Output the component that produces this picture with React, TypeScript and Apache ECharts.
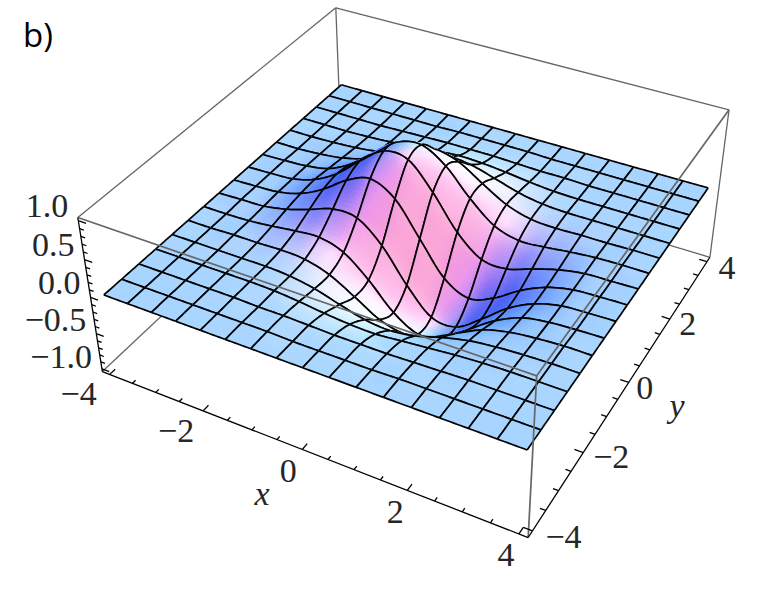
import React, { useEffect, useRef } from "react";
import * as echarts from "echarts";

const xValues = [-4,-3.5,-3,-2.5,-2,-1.5,-1,-0.5,0,0.5,1,1.5,2,2.5,3,3.5,4];
const yValues = [-4,-3.5,-3,-2.5,-2,-1.5,-1,-0.5,0,0.5,1,1.5,2,2.5,3,3.5,4];
// heights: row = x, column = y
const zGrid = [
[0,0,0,0,0,0,0,0,0,0,0,0,0,0,0,0,0],
[0,0,0,0,0,0,0,.01,.01,.01,.01,0,0,0,0,0,0],
[0,0,0,0,0,.01,.01,.02,.03,.03,.03,.02,.01,0,0,0,0],
[0,0,0,0,0,.01,.04,.08,.11,.12,.09,.06,.03,.01,0,0,0],
[0,0,0,0,0,.02,.08,.18,.27,.30,.25,.15,.07,.03,.01,0,0],
[0,0,-.01,-.01,-.02,0,.10,.29,.49,.57,.49,.32,.15,.06,.02,0,0],
[0,0,-.01,-.04,-.08,-.10,0,.27,.61,.80,.74,.49,.25,.09,.03,.01,0],
[0,-.01,-.02,-.08,-.18,-.29,-.27,0,.44,.78,.80,.57,.30,.12,.03,.01,0],
[0,-.01,-.03,-.11,-.27,-.49,-.61,-.44,0,.44,.61,.49,.27,.11,.03,.01,0],
[0,-.01,-.03,-.12,-.30,-.57,-.80,-.78,-.44,0,.27,.29,.18,.08,.02,.01,0],
[0,-.01,-.03,-.09,-.25,-.49,-.74,-.80,-.61,-.27,0,.10,.08,.04,.01,0,0],
[0,0,-.02,-.06,-.15,-.32,-.49,-.57,-.49,-.29,-.10,0,.02,.01,.01,0,0],
[0,0,-.01,-.03,-.07,-.15,-.25,-.30,-.27,-.18,-.08,-.02,0,0,0,0,0],
[0,0,0,-.01,-.03,-.06,-.09,-.12,-.11,-.08,-.04,-.01,0,0,0,0,0],
[0,0,0,0,-.01,-.02,-.03,-.03,-.03,-.02,-.01,-.01,0,0,0,0,0],
[0,0,0,0,0,0,-.01,-.01,-.01,-.01,0,0,0,0,0,0,0],
[0,0,0,0,0,0,0,0,0,0,0,0,0,0,0,0,0],
];
const xMajorTicks = [-4,-2,0,2,4];
const yMajorTicks = [-4,-2,0,2,4];
const zMajorTicks = [-1,-0.5,0,0.5,1];
const xyMinorTicks = [-3.5,-3,-2.5,-1.5,-1,-0.5,0.5,1,1.5,2.5,3,3.5];
const zMinorTicks = [-0.9,-0.8,-0.7,-0.6,-0.4,-0.3,-0.2,-0.1,0.1,0.2,0.3,0.4,0.6,0.7,0.8,0.9];
const xTickLabels = ["−4","−2","0","2","4"];
const yTickLabels = ["−4","−2","0","2","4"];
const zTickLabels = ["−1.0","−0.5","0.0","0.5","1.0"];

const BX = 4.16, BZ = 1.04;
const CAM = [0.43273,0.36904,-0.03562,1.04945,0.12319,-0.22941,-0.20086,0.59752,-0.05483,0.10051,-0.03321];
const project = (x:number,y:number,z:number):[number,number]=>{
  const u=x/4,v=y/4,w=CAM[8]*u+CAM[9]*v+CAM[10]*z+1;
  return [400*(CAM[0]*u+CAM[1]*v+CAM[2]*z+CAM[3])/w,400*(CAM[4]*u+CAM[5]*v+CAM[6]*z+CAM[7])/w];
};

const SUB = 8;
const M = (xValues.length-1)*SUB;
const cr=(a:number,b:number,c:number,d:number,t:number)=>0.5*(2*b+(c-a)*t+(2*a-5*b+4*c-d)*t*t+(3*b-a-3*c+d)*t*t*t);
const at=(i:number,j:number)=>zGrid[Math.max(0,Math.min(16,i))][Math.max(0,Math.min(16,j))];
const fine:number[][]=[];
for(let a=0;a<=M;a++){
  fine.push([]);
  const i=Math.min(15,Math.floor(a/SUB)),s=a/SUB-i;
  for(let b=0;b<=M;b++){
    const j=Math.min(15,Math.floor(b/SUB)),t=b/SUB-j;
    const col=[-1,0,1,2].map(o=>cr(at(i+o,j-1),at(i+o,j),at(i+o,j+1),at(i+o,j+2),t));
    fine[a].push(cr(col[0],col[1],col[2],col[3],s));
  }
}
const fx=(a:number)=>-4+a*8/M;
// surface colour by normal tilt: rows ny = -.7..+.7, columns nx = -.7..+.7
const RAMP=[
 [[60,60,230],[110,90,240],[175,130,245],[235,150,235],[252,160,205]],
 [[60,70,240],[120,130,250],[195,180,250],[255,225,255],[255,195,240]],
 [[70,100,245],[110,160,255],[168,213,255],[235,235,255],[255,240,255]],
 [[90,150,255],[120,185,255],[190,235,255],[245,250,255],[255,255,255]],
 [[110,190,255],[150,210,255],[225,250,255],[255,255,255],[255,255,255]],
];
function shade(a:number,b:number){
  const a0=Math.max(0,a-1),a1=Math.min(M,a+1),b0=Math.max(0,b-1),b1=Math.min(M,b+1);
  const gx=(fine[a1][b]-fine[a0][b])/(fx(a1)-fx(a0))*1.6,gy=(fine[a][b1]-fine[a][b0])/(fx(b1)-fx(b0))*1.6;
  const l=Math.hypot(gx,gy,1);
  return [-gx/l,-gy/l];
}
function colorAt(a:number,b:number){
  const s1=shade(a,b),s2=shade(a+1,b),s3=shade(a,b+1),s4=shade(a+1,b+1);
  const nx=(s1[0]+s2[0]+s3[0]+s4[0])/4,ny=(s1[1]+s2[1]+s3[1]+s4[1])/4;
  const px=(Math.max(-.7,Math.min(.7,nx))+.7)/.35,py=(Math.max(-.7,Math.min(.7,ny))+.7)/.35;
  const ix=Math.min(3,Math.floor(px)),iy=Math.min(3,Math.floor(py)),tx=px-ix,ty=py-iy;
  const c=[0,1,2].map(k=>Math.round((RAMP[iy][ix][k]*(1-tx)+RAMP[iy][ix+1][k]*tx)*(1-ty)+(RAMP[iy+1][ix][k]*(1-tx)+RAMP[iy+1][ix+1][k]*tx)*ty));
  return `rgb(${c[0]},${c[1]},${c[2]})`;
}
const cells:number[][]=[];
for(let i=0;i<16;i++)for(let j=15;j>=0;j--)cells.push([i,j]);

const renderCell=(params:any,api:any)=>{
  const [i,j]=cells[params.dataIndex];
  const P=(a:number,b:number)=>api.coord(project(fx(a),fx(b),fine[a][b]));
  let flat=true;
  for(let p=-1;p<=2;p++)for(let q=-1;q<=2;q++)if(at(i+p,j+q)!==0)flat=false;
  const children:any[]=[];
  const a0=i*SUB,b0=j*SUB;
  if(flat){
    children.push({type:"polygon",shape:{points:[P(a0,b0),P(a0+SUB,b0),P(a0+SUB,b0+SUB),P(a0,b0+SUB)]},style:{fill:"rgb(168,213,255)",stroke:"rgb(168,213,255)",lineWidth:.5}});
  }else{
    for(let a=a0;a<a0+SUB;a++)for(let b=b0+SUB-1;b>=b0;b--){
      const c=colorAt(a,b);
      children.push({type:"polygon",shape:{points:[P(a,b),P(a+1,b),P(a+1,b+1),P(a,b+1)]},style:{fill:c,stroke:c,lineWidth:.7}});
    }
  }
  const edge=(pts:number[][])=>children.push({type:"polyline",shape:{points:pts},style:{stroke:"#000",lineWidth:1.7,fill:null}});
  const e1:number[][]=[],e2:number[][]=[],e3:number[][]=[],e4:number[][]=[];
  for(let k=0;k<=SUB;k++){e1.push(P(a0+k,b0));e2.push(P(a0+k,b0+SUB));e3.push(P(a0,b0+k));e4.push(P(a0+SUB,b0+k));}
  edge(e2);edge(e3);edge(e1);edge(e4);
  return {type:"group",children};
};

type Seg=number[];
const c=(sx:number,sy:number,sz:number)=>[sx*BX,sy*BX,sz*BZ];
const backFrame:Seg[]=[
 [...c(-1,1,1),...c(-1,-1,1)],[...c(-1,1,1),...c(1,1,1)],[...c(-1,1,1),...c(-1,1,-1)],
 [...c(-1,1,-1),...c(-1,-1,-1)],[...c(-1,1,-1),...c(1,1,-1)],[...c(1,1,1),...c(1,1,-1)],
];
const frontFrame:Seg[]=[
 [...c(1,-1,1),...c(-1,-1,1)],[...c(1,-1,1),...c(1,1,1)],[...c(1,-1,1),...c(1,-1,-1)],
];
const axisSegs:Seg[]=[
 [...c(-1,-1,-1),...c(1,-1,-1)],[...c(1,-1,-1),...c(1,1,-1)],[...c(-1,-1,1),...c(-1,-1,-1)],
];
for(const t of xMajorTicks)axisSegs.push([t,-BX,-BZ,t,-BX+.16,-BZ]);
for(const t of xyMinorTicks)axisSegs.push([t,-BX,-BZ,t,-BX+.09,-BZ]);
for(const t of yMajorTicks)axisSegs.push([BX,t,-BZ,BX-.16,t,-BZ]);
for(const t of xyMinorTicks)axisSegs.push([BX,t,-BZ,BX-.1,t,-BZ]);
for(const t of zMajorTicks)axisSegs.push([-BX,-BX,t,-BX+.16,-BX,t]);
for(const t of zMinorTicks)axisSegs.push([-BX,-BX,t,-BX+.09,-BX,t]);

const segRender=(list:Seg[],stroke:string,lineWidth:number)=>(params:any,api:any)=>{
  const s=list[params.dataIndex];
  const a=api.coord(project(s[0],s[1],s[2])),b=api.coord(project(s[3],s[4],s[5]));
  return {type:"line",shape:{x1:a[0],y1:a[1],x2:b[0],y2:b[1]},style:{stroke,lineWidth}};
};

const SERIF="'Liberation Serif', serif";
const LABEL_FILL="#262626";
const xLabelOffset=[[-31,19],[-27,20],[-14,21],[-12,21],[-13,21]];
const yLabelOffset=[[31,6],[28,4],[16,5],[18,4],[20,6]];
const zLabelShift=[-12,-14,-15,-15,-15];
const labels:any[]=[];
xMajorTicks.forEach((t,k)=>{const p=project(t,-BX,-BZ);labels.push({t:xTickLabels[k],x:p[0]+xLabelOffset[k][0],y:p[1]+xLabelOffset[k][1],a:"center"});});
yMajorTicks.forEach((t,k)=>{const p=project(BX,t,-BZ);labels.push({t:yTickLabels[k],x:p[0]+yLabelOffset[k][0],y:p[1]+yLabelOffset[k][1],a:"center"});});
zMajorTicks.forEach((t,k)=>{const p=project(-BX,-BX,t);labels.push({t:zTickLabels[k],x:p[0]-10,y:p[1]+zLabelShift[k],a:"right"});});
labels.push({t:"x",x:262,y:493,a:"center",f:`italic 34px ${SERIF}`});
labels.push({t:"y",x:677,y:405,a:"center",f:`italic 34px ${SERIF}`});
labels.push({t:"b)",x:23,y:34,a:"left",f:"33px 'Open Sans', sans-serif",fill:"#000"});

const renderLabel=(params:any,api:any)=>{
  const l=labels[params.dataIndex];
  const p=api.coord([l.x,l.y]);
  return {type:"text",x:p[0],y:p[1],style:{text:l.t,fill:l.fill||LABEL_FILL,font:l.f||`34px ${SERIF}`,align:l.a,verticalAlign:"middle"}};
};
const dummy=(n:number)=>Array.from({length:n},()=>[0,0]);
const custom=(data:number,renderItem:any,z:number)=>({type:"custom",coordinateSystem:"cartesian2d",data:dummy(data),renderItem,z,silent:true,clip:false,progressive:0,animation:false});

export default function App(){
  const ref=useRef<HTMLDivElement>(null);
  useEffect(()=>{
    document.body.style.margin="0";
    const chart=echarts.init(ref.current!,null,{renderer:"svg"});
    chart.setOption({
      animation:false,
      backgroundColor:"#fff",
      grid:{left:0,right:0,top:0,bottom:0},
      xAxis:{type:"value",min:0,max:784,show:false},
      yAxis:{type:"value",min:0,max:600,inverse:true,show:false},
      series:[
        custom(backFrame.length,segRender(backFrame,"#666",1.3),1),
        custom(cells.length,renderCell,2),
        custom(frontFrame.length,segRender(frontFrame,"#666",1.7),3),
        custom(axisSegs.length,segRender(axisSegs,"#000",1.3),4),
        custom(labels.length,renderLabel,5),
      ],
    });
    return ()=>chart.dispose();
  },[]);
  return <div ref={ref} style={{width:784,height:600}}/>;
}
